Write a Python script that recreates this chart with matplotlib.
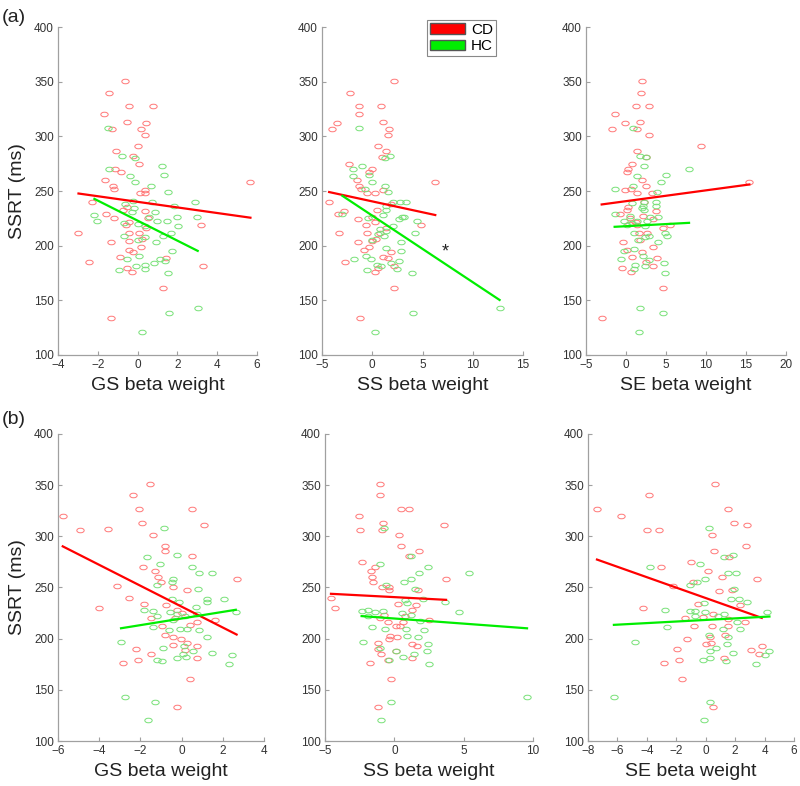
import numpy as np
import matplotlib
matplotlib.use("Agg")
import matplotlib.pyplot as plt
from matplotlib.path import Path
from matplotlib.patches import Patch

plt.rcParams.update({
    "font.family": ["Liberation Sans", "DejaVu Sans"],
    "font.size": 8.5,
})

# (x, SSRT) pairs; row a then row b
a_gs_cd = np.array([(-0.62, 351), (-1.45, 340), (-0.43, 328), (0.75, 328), (-1.67, 320), (-0.52, 313), (0.42, 312),
    (-1.28, 307), (0.17, 307), (0.38, 301), (0.0, 291), (-1.08, 287), (-0.25, 282), (0.05, 275), (-1.12, 270),
    (-0.82, 267), (-1.62, 260), (5.67, 258), (-1.23, 255), (-1.2, 252), (0.35, 251), (0.1, 248), (0.37, 248),
    (-2.3, 240), (-0.52, 235), (0.37, 232), (-1.6, 229), (-0.75, 233), (-1.2, 225), (0.5, 225), (-0.42, 222),
    (-0.58, 219), (3.17, 219), (0.43, 216), (-2.97, 212), (-0.42, 212), (0.08, 212), (0.23, 206), (-0.45, 204),
    (-1.35, 203), (0.15, 199), (-0.42, 196), (-0.25, 194), (-0.87, 190), (1.42, 189), (-2.45, 185), (-0.55, 180),
    (3.3, 181), (-0.3, 176), (1.27, 161), (-1.33, 134)])
a_gs_hc = np.array([(-1.48, 308), (-0.78, 282), (-0.12, 280), (1.22, 273), (-1.43, 270), (-0.38, 264), (1.33, 265),
    (-0.13, 258), (0.67, 255), (1.53, 249), (2.88, 240), (-0.22, 241), (0.72, 240), (-0.62, 238), (1.82, 236),
    (-0.2, 234), (-0.28, 231), (0.85, 231), (-2.17, 228), (2.0, 226), (3.0, 226), (0.57, 226), (-2.03, 223),
    (0.98, 223), (1.47, 223), (-0.68, 221), (0.0, 220), (2.02, 218), (0.37, 218), (1.68, 212), (-0.68, 209),
    (0.37, 208), (1.28, 209), (0.0, 205), (0.92, 203), (1.75, 195), (0.07, 191), (-0.52, 188), (1.13, 188),
    (1.37, 186), (0.38, 182), (0.83, 184), (-0.1, 181), (-0.93, 178), (0.35, 179), (1.53, 175), (3.02, 143),
    (1.58, 138), (0.22, 121)])

a_ss_cd = np.array([(2.18, 351), (-2.21, 340), (-1.32, 328), (0.86, 328), (-1.32, 320), (1.09, 313), (-3.5, 312),
    (-4.03, 307), (1.68, 307), (1.58, 301), (0.56, 291), (1.32, 287), (0.96, 281), (-2.31, 275), (-0.07, 270),
    (-0.3, 267), (-1.49, 260), (6.27, 258), (-1.32, 255), (-1.16, 252), (1.02, 251), (-0.53, 248), (0.23, 248),
    (-4.29, 240), (1.91, 238), (0.5, 233), (-2.8, 232), (-3.37, 229), (0.0, 226), (-1.45, 224), (0.23, 222),
    (-0.66, 219), (4.82, 219), (1.32, 216), (-3.3, 212), (-0.56, 212), (0.73, 212), (0.36, 206), (-0.03, 204),
    (-1.45, 203), (-0.3, 199), (-0.79, 196), (1.82, 194), (1.02, 190), (1.52, 189), (-2.74, 185), (2.18, 181),
    (0.53, 180), (0.23, 176), (2.15, 161), (-1.22, 134)])
a_ss_hc = np.array([(-1.35, 308), (1.75, 282), (1.25, 280), (-0.99, 273), (-1.88, 270), (-1.95, 264), (1.29, 255),
    (0.0, 258), (1.58, 249), (-0.76, 252), (-0.36, 265), (2.11, 240), (2.77, 240), (3.33, 240), (1.39, 236),
    (1.32, 233), (-2.97, 229), (2.94, 226), (3.17, 226), (-0.4, 225), (2.71, 224), (4.49, 223), (2.11, 218),
    (1.09, 228), (0.76, 215), (4.26, 212), (1.12, 209), (0.59, 211), (2.84, 203), (0.0, 205), (1.32, 198),
    (2.84, 195), (-0.66, 191), (-1.78, 188), (-0.1, 188), (2.67, 186), (0.46, 182), (1.91, 184), (0.92, 181),
    (-0.5, 178), (2.51, 179), (3.93, 175), (12.67, 143), (4.06, 138), (0.23, 121), (1.32, 213)])

a_se_cd = np.array([(1.96, 351), (1.88, 340), (1.25, 328), (2.92, 328), (-1.38, 320), (1.71, 313), (-0.13, 312),
    (-1.79, 307), (1.42, 307), (2.83, 301), (9.33, 291), (1.38, 287), (2.5, 281), (0.71, 275), (0.21, 270),
    (0.17, 267), (2.0, 260), (15.42, 258), (2.46, 255), (0.58, 252), (-0.08, 251), (1.33, 248), (3.29, 248),
    (2.25, 240), (0.25, 235), (3.75, 232), (-0.71, 229), (0.17, 233), (2.17, 227), (3.42, 224), (0.46, 225),
    (1.21, 222), (0.38, 220), (1.33, 219), (5.46, 219), (4.67, 216), (1.67, 212), (2.67, 212), (1.79, 205),
    (-0.42, 203), (3.33, 199), (0.08, 196), (1.96, 194), (0.79, 190), (3.83, 189), (2.46, 185), (-0.46, 180),
    (3.33, 181), (0.58, 176), (4.67, 161), (-3.04, 134)])
a_se_hc = np.array([(0.88, 308), (1.79, 282), (2.5, 281), (2.29, 273), (7.88, 270), (1.33, 264), (5.0, 265),
    (4.42, 258), (0.83, 255), (-1.42, 252), (3.83, 249), (2.25, 240), (3.71, 240), (0.71, 239), (2.08, 236),
    (3.75, 236), (2.25, 233), (-1.42, 229), (1.96, 234), (4.04, 226), (0.5, 227), (3.0, 226), (-0.25, 223),
    (1.33, 223), (2.58, 223), (0.71, 221), (0.08, 219), (2.42, 218), (4.83, 212), (1.0, 212), (2.33, 208),
    (2.92, 209), (5.08, 209), (1.5, 205), (4.04, 203), (1.04, 197), (-0.21, 195), (-0.58, 188), (2.08, 191),
    (2.88, 187), (4.71, 184), (1.17, 182), (2.42, 181), (0.96, 179), (4.88, 175), (1.75, 143), (4.58, 138),
    (1.67, 121)])

b_gs_cd = np.array([(-1.54, 351), (-2.35, 340), (-2.06, 327), (0.52, 327), (-5.77, 320), (-1.9, 313), (1.07, 311),
    (-3.56, 307), (-4.91, 306), (-1.38, 301), (-0.83, 291), (-0.81, 286), (0.5, 281), (-1.86, 270), (-1.31, 266),
    (-1.13, 260), (2.67, 258), (-1.0, 255), (-3.13, 251), (-0.44, 250), (0.24, 248), (-2.53, 240), (-1.83, 234),
    (-0.76, 233), (-4.03, 230), (-0.21, 228), (0.02, 225), (-1.5, 220), (-0.32, 220), (0.73, 216), (1.6, 218),
    (0.39, 213), (-0.97, 212), (-0.81, 204), (-0.41, 202), (-0.03, 200), (0.24, 196), (-0.44, 194), (0.73, 193),
    (-2.19, 190), (0.18, 189), (-1.5, 185), (-2.14, 179), (0.73, 181), (-2.83, 176), (0.39, 161), (-0.24, 133)])
b_gs_hc = np.array([(-0.84, 308), (-1.67, 280), (-0.24, 282), (-1.05, 273), (0.52, 270), (0.86, 264), (1.46, 264),
    (-0.41, 258), (-0.49, 255), (-1.18, 252), (0.79, 249), (2.08, 239), (1.22, 239), (-0.45, 239), (-0.11, 236),
    (1.22, 236), (-1.83, 228), (0.7, 231), (-1.38, 227), (-0.57, 226), (-0.23, 224), (2.63, 226), (-1.21, 222),
    (0.18, 222), (0.73, 224), (-0.41, 218), (-1.38, 211), (-0.06, 209), (0.85, 208), (-0.63, 208), (0.28, 209),
    (1.22, 202), (-2.94, 197), (0.11, 193), (-0.89, 191), (0.57, 188), (1.46, 186), (0.08, 185), (-0.24, 181),
    (0.19, 182), (-1.17, 179), (-0.97, 178), (2.46, 184), (2.3, 175), (-2.75, 143), (-1.3, 138), (-1.62, 121)])

b_ss_cd = np.array([(-1.03, 351), (-1.03, 340), (0.48, 327), (1.08, 327), (-2.57, 320), (-0.82, 313), (3.61, 311),
    (-2.48, 306), (-0.91, 306), (0.34, 301), (0.46, 291), (1.78, 286), (1.08, 281), (-2.33, 275), (-1.37, 270),
    (-1.68, 266), (-1.63, 260), (3.73, 258), (-1.54, 255), (-0.91, 250), (-0.36, 250), (-0.36, 248), (1.73, 248),
    (-4.57, 240), (0.29, 234), (1.56, 233), (-4.28, 230), (1.27, 228), (-1.03, 220), (0.77, 222), (-0.72, 223),
    (2.52, 218), (-0.48, 216), (0.6, 216), (0.1, 212), (0.41, 212), (-0.34, 203), (0.22, 202), (-0.36, 200),
    (-1.15, 196), (1.25, 195), (1.63, 193), (-1.2, 190), (0.12, 188), (-0.99, 185), (1.3, 181), (-0.46, 179),
    (-1.73, 176), (-0.22, 161), (-1.2, 133)])
b_ss_hc = np.array([(-0.72, 308), (1.18, 281), (-1.03, 273), (2.4, 270), (1.8, 264), (5.38, 264), (0.67, 255),
    (1.18, 258), (-0.63, 252), (1.49, 249), (2.09, 239), (0.79, 238), (0.94, 235), (3.65, 236), (-2.36, 227),
    (-1.88, 228), (-1.39, 226), (-0.79, 227), (4.69, 226), (0.58, 225), (1.18, 223), (-1.92, 222), (1.85, 217),
    (-1.61, 211), (-0.67, 209), (0.82, 209), (2.16, 208), (0.89, 203), (1.68, 202), (-2.28, 197), (2.45, 195),
    (-1.03, 191), (2.38, 188), (0.12, 188), (1.44, 185), (0.6, 182), (-0.38, 179), (2.5, 175), (-0.24, 138),
    (-0.99, 121), (9.57, 143)])

b_se_cd = np.array([(0.63, 351), (-3.87, 340), (1.52, 327), (-7.39, 327), (-5.78, 320), (1.95, 313), (2.81, 311),
    (-3.15, 306), (-4.01, 306), (0.43, 301), (2.77, 291), (0.59, 286), (1.56, 280), (-0.98, 275), (-3.04, 270),
    (0.16, 266), (1.09, 260), (3.47, 258), (-0.84, 255), (-2.24, 251), (0.88, 247), (1.79, 248), (-0.54, 234),
    (2.36, 233), (-4.29, 230), (0.5, 224), (-0.16, 221), (-1.43, 220), (1.54, 219), (2.65, 216), (0.43, 212),
    (-0.79, 212), (1.54, 212), (1.32, 204), (0.27, 202), (-1.29, 200), (0.02, 195), (0.36, 196), (3.81, 193),
    (-1.95, 190), (3.06, 189), (3.65, 185), (-1.81, 179), (1.27, 181), (-2.83, 176), (-1.59, 161), (0.52, 133)])
b_se_hc = np.array([(0.2, 308), (1.27, 280), (1.88, 282), (-3.79, 270), (-0.36, 273), (1.52, 264), (2.06, 264),
    (-0.02, 258), (-0.61, 255), (-1.04, 252), (1.93, 249), (1.72, 239), (2.29, 239), (2.79, 236), (-0.09, 235),
    (-2.74, 228), (-0.72, 227), (-1.09, 227), (-0.05, 226), (4.17, 226), (1.27, 224), (0.84, 222), (-0.75, 222),
    (2.15, 216), (-2.65, 211), (2.36, 209), (1.16, 209), (0.23, 204), (1.54, 202), (-4.83, 197), (1.47, 195),
    (0.73, 191), (0.29, 188), (4.33, 188), (1.88, 186), (4.04, 184), (0.27, 181), (-0.16, 179), (1.38, 178),
    (3.42, 175), (-6.24, 143), (0.29, 138), (-0.11, 121)])

# fitted lines (intercept, slope)
fit_cd = [(240.1, -2.56), (240.5, -1.99), (240.7, 0.99), (231.3, -10.21), (240.6, -0.71), (239.7, -5.09)]
fit_hc = [(222.9, -9.16), (227.5, -6.09), (217.8, 0.39), (219.7, 3.24), (219.7, -1.00), (218.3, 0.77)]

x_labels = ["GS beta weight", "SS beta weight", "SE beta weight"] * 2
x_limits = [(-4, 6), (-5, 15), (-5, 20), (-6, 4), (-5, 10), (-8, 6)]
x_steps = [2, 5, 5, 2, 5, 2]

cd_sets = [a_gs_cd, a_ss_cd, a_se_cd, b_gs_cd, b_ss_cd, b_se_cd]
hc_sets = [a_gs_hc, a_ss_hc, a_se_hc, b_gs_hc, b_ss_hc, b_se_hc]

RED, GREEN = "#ff0000", "#00ee00"
RED_PT, GREEN_PT = "#ff7777", "#77e077"

# MATLAB-style circles come out squashed in the source image
circ = Path.unit_circle()
oval = Path(circ.vertices * np.array([1.0, 0.62]), circ.codes)

fig = plt.figure(figsize=(8.0, 7.86), dpi=100)
W, H = 800, 786
boxes = [(58, 27, 199, 328), (322, 27, 201, 328), (586, 27, 200, 328),
         (58, 434, 206, 307), (325, 434, 208, 307), (588, 434, 206, 307)]

axes = []
for i, (l, t, w, h) in enumerate(boxes):
    ax = fig.add_axes([l / W, 1 - (t + h) / H, w / W, h / H])
    axes.append(ax)
    cd, hc = cd_sets[i], hc_sets[i]
    ax.plot(cd[:, 0], cd[:, 1], linestyle="none", marker=oval, ms=5.3,
            mfc="none", mec=RED_PT, mew=0.7)
    ax.plot(hc[:, 0], hc[:, 1], linestyle="none", marker=oval, ms=5.3,
            mfc="none", mec=GREEN_PT, mew=0.7)
    for data, (b0, b1), col in [(cd, fit_cd[i], RED), (hc, fit_hc[i], GREEN)]:
        xx = np.array([data[:, 0].min(), data[:, 0].max()])
        ax.plot(xx, b0 + b1 * xx, color=col, lw=1.6)

    x0, x1 = x_limits[i]
    ax.set_xlim(x0, x1)
    ax.set_ylim(100, 400)
    ax.set_xticks(np.arange(x0, x1 + 0.01, x_steps[i]))
    ax.set_yticks(np.arange(100, 401, 50))
    for s in ["top", "right"]:
        ax.spines[s].set_visible(False)
    for s in ["left", "bottom"]:
        ax.spines[s].set_color("#a0a0a0")
        ax.spines[s].set_linewidth(0.9)
    ax.tick_params(direction="in", length=3, width=0.8, color="#a0a0a0",
                   labelcolor="#333333", labelsize=8.5, pad=3)
    ax.set_xlabel(x_labels[i], fontsize=14, color="#222222", labelpad=4)
    if i % 3 == 0:
        ax.set_ylabel("SSRT (ms)", fontsize=14, color="#222222", labelpad=6)

axes[1].text(7.3, 194, "*", fontsize=13, ha="center", va="center", color="#222222")

leg = axes[1].legend(handles=[Patch(facecolor=RED, edgecolor="#555555", label="CD"),
                              Patch(facecolor=GREEN, edgecolor="#555555", label="HC")],
                     loc="upper right", bbox_to_anchor=(0.905, 1.045), fontsize=11,
                     handlelength=2.3, handleheight=0.7, handletextpad=0.4,
                     borderpad=0.2, labelspacing=0.15, fancybox=False,
                     framealpha=1, edgecolor="#888888")
leg.get_frame().set_linewidth(0.8)

fig.text(2 / W, 1 - 17 / H, "(a)", fontsize=14, va="center", ha="left", color="#222222")
fig.text(2 / W, 1 - 420 / H, "(b)", fontsize=14, va="center", ha="left", color="#222222")

fig.savefig("out.png", dpi=100)
